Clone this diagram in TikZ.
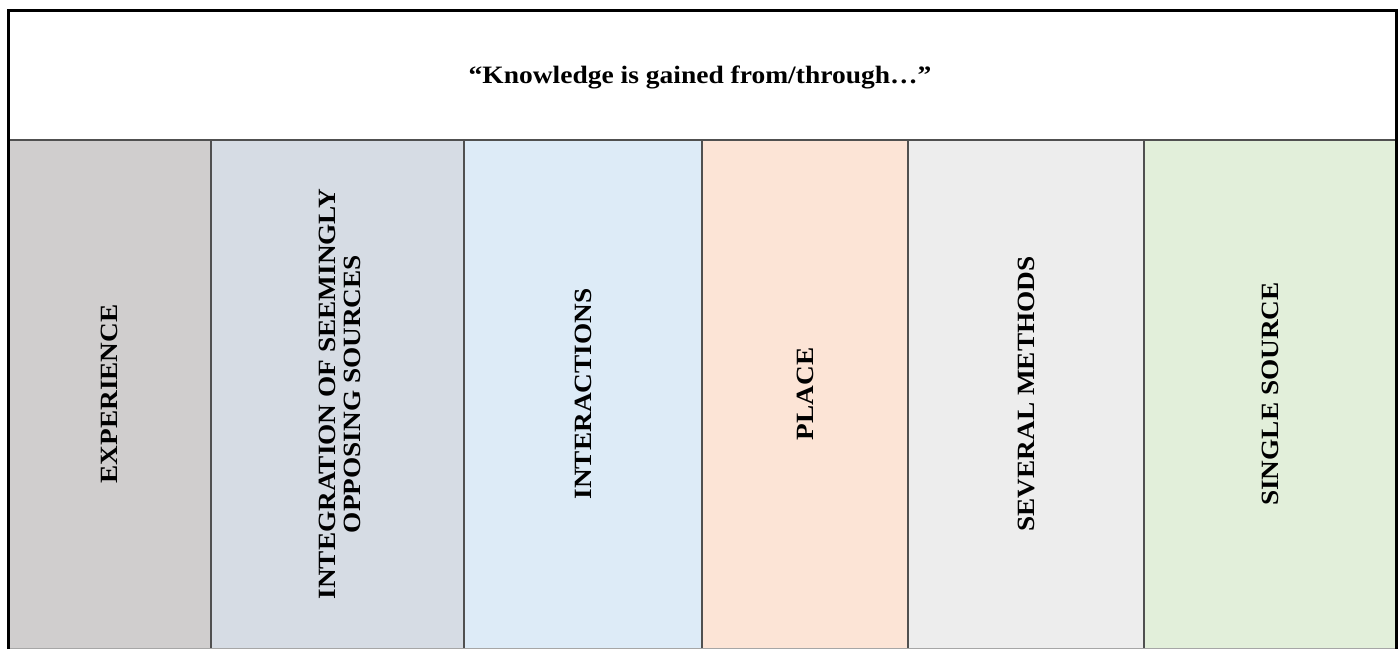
\documentclass[tikz,border=0pt]{standalone}
\usepackage{fontspec}
\setmainfont{Liberation Serif}[FakeStretch=1.1]
\definecolor{cexp}{HTML}{D0CECE}
\definecolor{cint}{HTML}{D6DCE4}
\definecolor{cinter}{HTML}{DDEBF7}
\definecolor{cplace}{HTML}{FCE4D6}
\definecolor{csev}{HTML}{EDEDED}
\definecolor{csing}{HTML}{E2EFDA}
\definecolor{divline}{HTML}{505050}
\tikzset{
  lbl/.style={rotate=90, align=center, font=\bfseries\fontsize{12.4}{12.8}\selectfont, inner sep=0pt},
  head/.style={font=\bfseries\fontsize{12.5}{14}\selectfont, inner sep=0pt},
  divider/.style={draw=divline, line width=1pt},
  outer/.style={draw=black, line width=1.5pt}
}
\begin{document}
\begin{tikzpicture}[x=0.5pt,y=-0.5pt]
\useasboundingbox (0,0) rectangle (1400,650);
\fill[white] (0,0) rectangle (1400,650);
% column fills
\fill[cexp]   (8,139.5) rectangle (211,649);
\fill[cint]   (211,139.5) rectangle (464,649);
\fill[cinter] (464,139.5) rectangle (702,649);
\fill[cplace] (702,139.5) rectangle (908,649);
\fill[csev]   (908,139.5) rectangle (1144,649);
\fill[csing]  (1144,139.5) rectangle (1396,649);
% dividers
\draw[divider] (8,139.5) -- (1396,139.5);
\foreach \x in {211,464,702,908,1144} \draw[divider] (\x,139.5) -- (\x,649);
\draw[draw=gray!70, line width=0.8pt] (8,648.5) -- (1396,648.5);
% outer border
\draw[outer] (8,649) -- (8,10) -- (1396,10) -- (1396,649);
% texts
\node[head] (title) at (700,77) {“Knowledge is gained from/through…”};
\node[lbl] (c1) at (109.5,394) {EXPERIENCE};
\node[lbl] (c2) at (340,394) {INTEGRATION OF SEEMINGLY\\OPPOSING SOURCES};
\node[lbl] (c3) at (583,394) {INTERACTIONS};
\node[lbl] (c4) at (805,394) {PLACE};
\node[lbl] (c5) at (1026,394) {SEVERAL METHODS};
\node[lbl] (c6) at (1270,394) {SINGLE SOURCE};
\end{tikzpicture}
\end{document}
